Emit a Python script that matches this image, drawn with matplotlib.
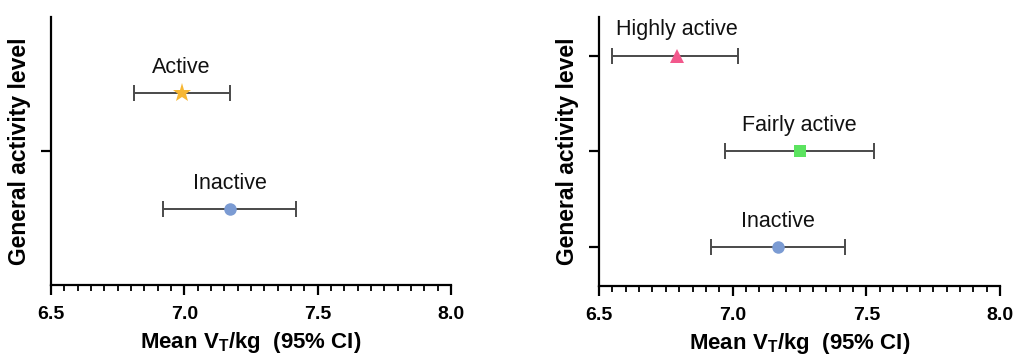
import matplotlib
matplotlib.use("Agg")
import matplotlib.pyplot as plt
from matplotlib.ticker import MultipleLocator

plt.rcParams['font.family'] = ['Liberation Sans', 'DejaVu Sans']

# Left panel data
left_groups = ["Active", "Inactive"]
left_mean = [6.99, 7.17]
left_lo = [6.81, 6.92]
left_hi = [7.17, 7.42]
left_colors = ["#F7B733", "#7B9BD3"]
left_markers = ["*", "o"]

# Right panel data
right_groups = ["Highly active", "Fairly active", "Inactive"]
right_mean = [6.79, 7.25, 7.17]
right_lo = [6.55, 6.97, 6.92]
right_hi = [7.02, 7.53, 7.42]
right_colors = ["#F2588C", "#5BE35F", "#7B9BD3"]
right_markers = ["^", "s", "o"]

xticks = [6.5, 7.0, 7.5, 8.0]
xlabels = ["6.5", "7.0", "7.5", "8.0"]

fig = plt.figure(figsize=(10.13, 3.56), dpi=100)
axL = fig.add_axes([0.0503, 0.1994, 0.395, 0.753])
axR = fig.add_axes([0.5913, 0.1966, 0.396, 0.756])

msizes = {"*": 14, "o": 9, "^": 9.5, "s": 9}


def panel(ax, groups, mean, lo, hi, colors, markers, ypos, ylim, yticks):
    for g, m, l, h, c, mk, y in zip(groups, mean, lo, hi, colors, markers, ypos):
        ax.errorbar([m], [y], xerr=[[m - l], [h - m]], fmt='none', ecolor='#4a4a4a',
                    elinewidth=1.4, capsize=5.5, capthick=1.4, zorder=2)
        ax.plot([m], [y], marker=mk, color=c, markersize=msizes[mk], linestyle='none',
                markeredgewidth=0, zorder=3)
        ax.annotate(g, (m, y), xytext=(0, 11), textcoords='offset points',
                    ha='center', va='bottom', fontsize=15.5, color='#111111')
    ax.set_xlim(6.5, 8.0)
    ax.set_ylim(*ylim)
    ax.set_xticks(xticks)
    ax.set_xticklabels(xlabels, fontsize=14, fontweight='bold')
    ax.xaxis.set_minor_locator(MultipleLocator(0.05))
    ax.set_yticks(yticks)
    ax.set_yticklabels([""] * len(yticks))
    for s in ['top', 'right']:
        ax.spines[s].set_visible(False)
    for s in ['left', 'bottom']:
        ax.spines[s].set_linewidth(1.6)
    ax.tick_params(axis='x', which='major', length=7, width=1.6, pad=8)
    ax.tick_params(axis='x', which='minor', length=4, width=1.3)
    ax.tick_params(axis='y', which='major', length=7, width=1.6)
    ax.set_xlabel(r"Mean V$_\mathregular{T}$/kg  (95% CI)", fontsize=16,
                  fontweight='bold', labelpad=5)
    ax.set_ylabel("General activity level", fontsize=16.5, fontweight='bold', labelpad=4)


panel(axL, left_groups, left_mean, left_lo, left_hi, left_colors, left_markers,
      [2, 1], (0.345, 2.655), [1.5])
panel(axR, right_groups, right_mean, right_lo, right_hi, right_colors, right_markers,
      [3, 2, 1], (0.594, 3.406), [1, 2, 3])

fig.savefig("out.png", dpi=100)
